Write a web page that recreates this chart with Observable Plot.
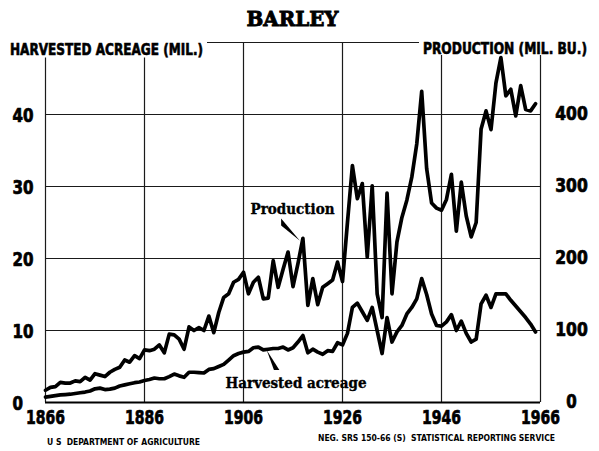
<!DOCTYPE html>
<html><head><meta charset="utf-8">
<script src="https://cdn.jsdelivr.net/npm/d3@7"></script>
<script src="https://cdn.jsdelivr.net/npm/@observablehq/plot@0.6"></script>
<style>
html,body{margin:0;padding:0;background:#fff;}
svg{display:block;}
</style></head><body><div id="chart"></div>
<script>
// ---- data ----
const years = d3.range(1866, 1966);
// Production, million bushels (right axis)
const production = [
  17, 21, 22, 28, 27, 27, 30, 29, 35, 31,
  40, 38, 36, 42, 46, 49, 59, 56, 65, 61,
  73, 72, 74, 80, 69, 95, 94, 88, 74, 105,
  100, 104, 100, 120, 97, 125, 146, 151, 167, 171,
  181, 151, 167, 174, 144, 145, 197, 160, 185, 209,
  161, 193, 228, 135, 172, 136, 160, 165, 170, 195,
  168, 250, 329, 283, 304, 202, 301, 151, 118, 291,
  151, 223, 257, 281, 313, 359, 432, 325, 277, 270,
  267, 282, 317, 238, 306, 259, 230, 250, 380, 405,
  379, 444, 479, 426, 435, 398, 440, 407, 405, 415
];
// Harvested acreage, million acres (left axis)
const acreage = [
  0.75, 0.85, 0.95, 1.05, 1.1, 1.15, 1.25, 1.35, 1.45, 1.6,
  1.9, 2.0, 1.8, 1.85, 2.0, 2.3, 2.45, 2.6, 2.75, 2.85,
  3.05, 3.2, 3.4, 3.3, 3.3, 3.6, 3.95, 3.7, 3.5, 4.2,
  4.2, 4.15, 4.1, 4.6, 4.7, 5.0, 5.3, 5.9, 6.5, 6.8,
  7.0, 7.1, 7.6, 7.7, 7.3, 7.4, 7.5, 7.5, 7.7, 7.3,
  7.6, 8.4, 9.3, 6.9, 7.4, 7.0, 6.7, 7.2, 7.1, 8.3,
  8.0, 9.6, 13.2, 13.8, 12.6, 11.4, 13.2, 10.0, 6.8, 11.8,
  8.4, 9.8, 10.7, 12.3, 13.2, 14.4, 17.2, 15.0, 12.3, 10.7,
  10.6, 11.2, 12.2, 10.0, 11.3, 9.6, 8.4, 8.8, 13.7, 14.9,
  13.2, 15.1, 15.1, 15.1, 14.2, 13.4, 12.6, 11.8, 10.9, 9.8
];
const xTicks = [1866, 1886, 1906, 1926, 1946, 1966];
const leftTicks = [0, 10, 20, 30, 40];
const rightTicks = [0, 100, 200, 300, 400];
const gridY = [10, 20, 30, 40, 50];
const titleText = "BARLEY";
const leftTitle = "HARVESTED ACREAGE (MIL.)";
const rightTitle = "PRODUCTION (MIL. BU.)";
const footLeft = "U S  DEPARTMENT OF AGRICULTURE";
const footRight = "NEG. SRS 150-66 (S)  STATISTICAL REPORTING SERVICE";
const annotations = [
  {label: "Production", year: 1915.9, value: 26.8},
  {label: "Harvested acreage", year: 1916.6, value: 2.7}
];
const prodPointer = [
  {year: 1913.7, lo: 24.5, hi: 25.5},
  {year: 1917.5, lo: 22.4, hi: 22.4}
];
const acrePointer = [
  {value: 7.2, left: 1910.8, right: 1910.8},
  {value: 4.45, left: 1912.25, right: 1913.35}
];

// production is drawn on the left scale (1 acreage unit = 10 mil. bu.)
const table = years.map((yr, i) => ({year: yr, acreage: acreage[i], production: production[i] / 10}));

const SANS = "'Liberation Sans Narrow', 'DejaVu Sans Condensed', 'DejaVu Sans', sans-serif";
const SERIF = "'DejaVu Serif Condensed', 'DejaVu Serif', serif";
const heavy = {fill: "#000", stroke: "#000", strokeWidth: 0.7, fontWeight: "bold", fontFamily: SANS};

const chart = Plot.plot({
  width: 599, height: 451,
  marginLeft: 45, marginRight: 59, marginTop: 42, marginBottom: 49,
  x: {domain: [1866, 1966], axis: null},
  y: {domain: [0, 50], axis: null},
  style: {background: "white", fontFamily: SANS},
  marks: [
    Plot.ruleY(gridY, {stroke: "#1a1a1a", strokeWidth: 1.2}),
    Plot.ruleX(xTicks, {stroke: "#1a1a1a", strokeWidth: 1.2}),
    Plot.ruleY([0], {stroke: "#000", strokeWidth: 2.2}),
    Plot.line(table, {x: "year", y: "production", stroke: "#000", strokeWidth: 3.7, strokeLinejoin: "round", strokeLinecap: "round"}),
    Plot.line(table, {x: "year", y: "acreage", stroke: "#000", strokeWidth: 3.7, strokeLinejoin: "round", strokeLinecap: "round"}),
    Plot.areaY(prodPointer, {x: "year", y1: "lo", y2: "hi", fill: "#000"}),
    Plot.areaX(acrePointer, {y: "value", x1: "left", x2: "right", fill: "#000"}),
    Plot.text(annotations, {x: "year", y: "value", text: "label", fontFamily: SERIF, fontWeight: "bold", fontSize: 15, fill: "#000", stroke: "#000", strokeWidth: 0.35}),
    Plot.text(xTicks, {x: d => d, y: () => 0, text: d => String(d), dy: 15.5, fontSize: 20, ...heavy}),
    Plot.text(leftTicks, {x: () => 1866, y: d => d, text: d => String(d), dx: -33, dy: 1, textAnchor: "start", fontSize: 19, ...heavy}),
    Plot.text(rightTicks, {x: () => 1966, y: d => d / 10, text: d => String(d), dx: 31, dy: -0.5, textAnchor: "middle", fontSize: 19, ...heavy})
  ]
});
document.getElementById("chart").appendChild(chart);

// fit glyph widths to the reference
const numW = {1: 10.5, 2: 21, 3: 32.5, 4: 39};
d3.select(chart).selectAll("text").each(function() {
  const t = this.textContent;
  if (/^\d+$/.test(t)) {
    d3.select(this).attr("textLength", numW[t.length]).attr("lengthAdjust", "spacingAndGlyphs");
  } else if (t === "Production") {
    d3.select(this).attr("textLength", 84).attr("lengthAdjust", "spacingAndGlyphs");
  } else if (t === "Harvested acreage") {
    d3.select(this).attr("textLength", 141).attr("lengthAdjust", "spacingAndGlyphs");
  }
});

// axis titles sit on white boxes that interrupt the frame, below the data lines
const svg = d3.select(chart);
const firstLine = chart.querySelector('g[aria-label="line"]');
const g = d3.create("svg:g");
chart.insertBefore(g.node(), firstLine);
g.append("rect").attr("x", 4).attr("y", 35).attr("width", 203).attr("height", 22.5).attr("fill", "#fff");
g.append("rect").attr("x", 419).attr("y", 35).attr("width", 176).attr("height", 20).attr("fill", "#fff");
g.append("text").text(leftTitle).attr("x", 10).attr("y", 54.5).attr("text-anchor", "start")
  .attr("font-family", SANS).attr("font-weight", "bold").attr("font-size", 15.5)
  .attr("stroke", "#000").attr("stroke-width", 0.6)
  .attr("textLength", 193).attr("lengthAdjust", "spacingAndGlyphs").attr("fill", "#000");
g.append("text").text(rightTitle).attr("x", 423).attr("y", 53.5).attr("text-anchor", "start")
  .attr("font-family", SANS).attr("font-weight", "bold").attr("font-size", 15.5)
  .attr("stroke", "#000").attr("stroke-width", 0.6)
  .attr("textLength", 164).attr("lengthAdjust", "spacingAndGlyphs").attr("fill", "#000");

svg.append("text").text(titleText).attr("x", 292.5).attr("y", 25.5).attr("text-anchor", "middle")
  .attr("font-family", "'DejaVu Serif', serif").attr("font-weight", "bold").attr("font-size", 21)
  .attr("stroke", "#000").attr("stroke-width", 0.9)
  .attr("textLength", 92).attr("lengthAdjust", "spacingAndGlyphs").attr("fill", "#000");
svg.append("text").text(footLeft).attr("x", 47).attr("y", 445).attr("text-anchor", "start").style("white-space", "pre")
  .attr("font-family", SANS).attr("font-size", 8.5).attr("font-weight", "bold")
  .attr("textLength", 153).attr("lengthAdjust", "spacing").attr("fill", "#000");
svg.append("text").text(footRight).attr("x", 318).attr("y", 441).attr("text-anchor", "start").style("white-space", "pre")
  .attr("font-family", SANS).attr("font-size", 8.5).attr("font-weight", "bold")
  .attr("textLength", 237).attr("lengthAdjust", "spacing").attr("fill", "#000");
</script>
</body></html>
